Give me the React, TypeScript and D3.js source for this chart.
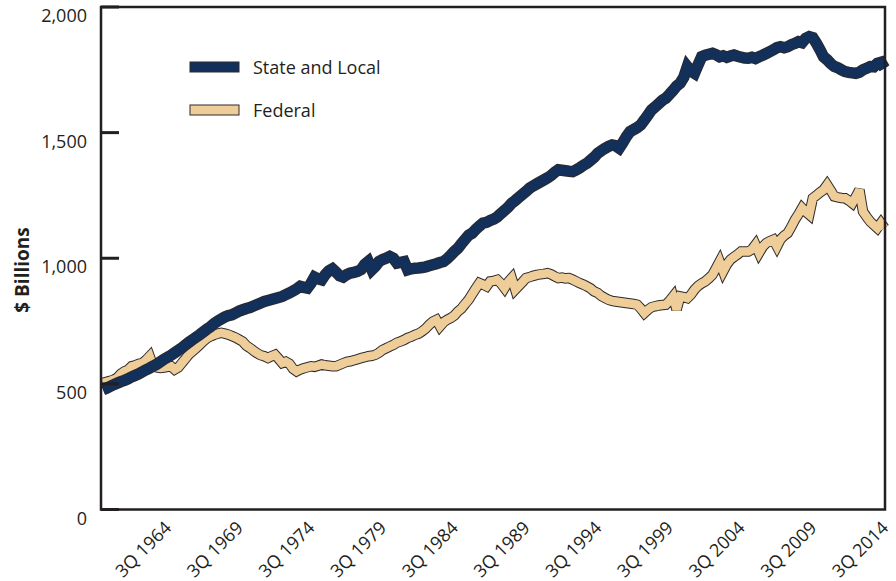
import React from "react";
import * as d3 from "d3";

// Quarterly, 1Q 1960 .. 3Q 2014 ($ billions)
const stateLocal: number[] = [
  477, 483, 490, 497, 503, 509, 514, 520, 528, 534, 540, 548, 556, 563, 571, 578,
  588, 598, 606, 614, 624, 634, 643, 655, 666, 676, 686, 696, 707, 718, 728, 740,
  750, 758, 766, 772, 775, 782, 790, 795, 800, 804, 810, 816, 822, 828, 832, 836,
  840, 844, 848, 855, 862, 870, 878, 888, 884, 881, 900, 925, 918, 914, 935, 950,
  958, 945, 930, 925, 935, 941, 944, 948, 955, 975, 987, 954, 968, 987, 995, 1000,
  1007, 1000, 981, 984, 987, 954, 958, 960, 961, 963, 966, 970, 974, 978, 983, 987,
  998, 1012, 1027, 1040, 1058, 1075, 1092, 1100, 1115, 1128, 1140, 1143, 1150, 1156, 1165, 1178,
  1190, 1203, 1219, 1230, 1242, 1254, 1266, 1279, 1288, 1296, 1304, 1312, 1320, 1330, 1342, 1352,
  1350, 1348, 1346, 1345, 1352, 1360, 1370, 1378, 1390, 1402, 1418, 1428, 1437, 1445, 1451, 1448,
  1438, 1460, 1484, 1504, 1512, 1520, 1531, 1550, 1570, 1590, 1602, 1615, 1628, 1637, 1652, 1668,
  1685, 1697, 1720, 1763, 1745, 1736, 1770, 1802, 1808, 1812, 1816, 1810, 1802, 1806, 1800, 1805,
  1809, 1804, 1800, 1797, 1796, 1800, 1795, 1802, 1808, 1815, 1822, 1830, 1838, 1842, 1838, 1842,
  1850, 1855, 1862, 1858, 1875, 1882, 1878, 1856, 1830, 1802, 1790, 1775, 1763, 1758, 1750, 1743,
  1740, 1738, 1736, 1740, 1750, 1756, 1763, 1762, 1776, 1780, 1756,
];

const federal: number[] = [
  504, 508, 512, 517, 525, 540, 550, 556, 570, 574, 580, 583, 595, 610, 570, 566,
  563, 565, 568, 570, 557, 565, 583, 600, 618, 630, 642, 656, 670, 682, 689, 695,
  700, 703, 700, 696, 690, 684, 676, 668, 652, 643, 632, 622, 614, 610, 603, 610,
  616, 600, 583, 588, 580, 560, 550, 557, 562, 566, 570, 568, 572, 577, 574, 572,
  570, 570, 576, 582, 588, 590, 594, 598, 603, 606, 610, 612, 616, 624, 635, 642,
  649, 655, 664, 669, 675, 683, 688, 695, 700, 709, 720, 735, 748, 755, 729, 745,
  755, 762, 772, 788, 800, 818, 835, 858, 880, 901, 895, 888, 908, 910, 914, 900,
  881, 905, 921, 875, 890, 905, 921, 925, 930, 934, 936, 938, 941, 936, 928, 921,
  923, 920, 921, 915, 908, 901, 895, 888, 880, 868, 862, 850, 842, 835, 830, 828,
  826, 824, 822, 820, 818, 815, 800, 782, 795, 805, 809, 812, 814, 815, 830, 848,
  795, 848, 845, 841, 855, 875, 890, 900, 908, 920, 934, 960, 987, 948, 975, 994,
  1005, 1015, 1027, 1027, 1027, 1035, 1054, 1021, 1045, 1060, 1068, 1074, 1047, 1075, 1090, 1100,
  1125, 1153, 1175, 1200, 1185, 1173, 1239, 1250, 1262, 1272, 1292, 1270, 1246, 1242, 1240, 1239,
  1230, 1219, 1245, 1272, 1186, 1165, 1146, 1133, 1120, 1140, 1120,
];

const xTickLabels: string[] = [
  "3Q 1964", "3Q 1969", "3Q 1974", "3Q 1979", "3Q 1984",
  "3Q 1989", "3Q 1994", "3Q 1999", "3Q 2004", "3Q 2009", "3Q 2014",
];
const yTicks: number[] = [0, 500, 1000, 1500, 2000];
const seriesNames: string[] = ["State and Local", "Federal"];

const FONT = "'Open Sans', 'Noto Sans', sans-serif";
const INK = "#231f20";

function quarterIndex(label: string): number {
  const q = parseInt(label.slice(0, 1), 10);
  const yr = parseInt(label.slice(3), 10);
  return (yr - 1960) * 4 + (q - 1);
}

export default function App() {
  const W = 896;
  const H = 581;
  const left = 101, right = 885, top = 7, bottom = 509.5;

  const x = d3.scaleLinear().domain([0, stateLocal.length - 1]).range([103, 884.5]);
  const y = d3.scaleLinear().domain([0, 2000]).range([bottom, top]);

  const line = d3
    .line<number>()
    .x((_, i) => x(i))
    .y((d) => y(d));

  const stateD = line(stateLocal) || "";
  const fedD = line(federal) || "";

  return (
    <svg
      width={W}
      height={H}
      viewBox={`0 0 ${W} ${H}`}
      style={{ position: "absolute", left: 0, top: 0, background: "#fff" }}
    >
      {/* series */}
      <g fill="none" strokeLinejoin="miter" strokeMiterlimit={3}>
        <path d={fedD} stroke="#2e2b2b" strokeWidth={10.5} />
        <path d={fedD} stroke="#efcd99" strokeWidth={8.5} />
        <path d={stateD} stroke="#2a2a2e" strokeWidth={11.5} />
        <path d={stateD} stroke="#13305a" strokeWidth={9.5} />
      </g>

      {/* frame */}
      <rect
        x={left}
        y={top}
        width={right - left}
        height={bottom - top}
        fill="none"
        stroke={INK}
        strokeWidth={2.5}
      />

      {/* y ticks & labels */}
      {yTicks.map((t) => (
        <g key={t}>
          <line x1={left} x2={left + 18} y1={y(t)} y2={y(t)} stroke={INK} strokeWidth={3} />
          <text
            x={87}
            y={y(t) + 8}
            textAnchor="end"
            dominantBaseline="central"
            fontFamily={FONT}
            fontSize={18}
            fill={INK}
          >
            {d3.format(",")(t)}
          </text>
        </g>
      ))}

      {/* x tick labels */}
      {xTickLabels.map((lab) => {
        const xi = x(quarterIndex(lab));
        return (
          <text
            key={lab}
            transform={`translate(${xi},${524}) rotate(-45)`}
            textAnchor="end"
            dominantBaseline="central"
            fontFamily={FONT}
            fontSize={18}
            fill={INK}
          >
            {lab}
          </text>
        );
      })}

      {/* y axis title */}
      <text
        transform={`translate(22,270) rotate(-90)`}
        textAnchor="middle"
        dominantBaseline="central"
        fontFamily={FONT}
        fontSize={19}
        fontWeight="bold"
        fill={INK}
      >
        $ Billions
      </text>

      {/* legend */}
      <g fontFamily={FONT} fontSize={18} fill={INK}>
        <rect x={190} y={62} width={49} height={10} fill="#13305a" stroke="#2a2a2e" strokeWidth={1} />
        <text x={253} y={67} dominantBaseline="central">{seriesNames[0]}</text>
        <rect x={190} y={105} width={49} height={10} fill="#efcd99" stroke="#2e2b2b" strokeWidth={1} />
        <text x={253} y={110} dominantBaseline="central">{seriesNames[1]}</text>
      </g>
    </svg>
  );
}
